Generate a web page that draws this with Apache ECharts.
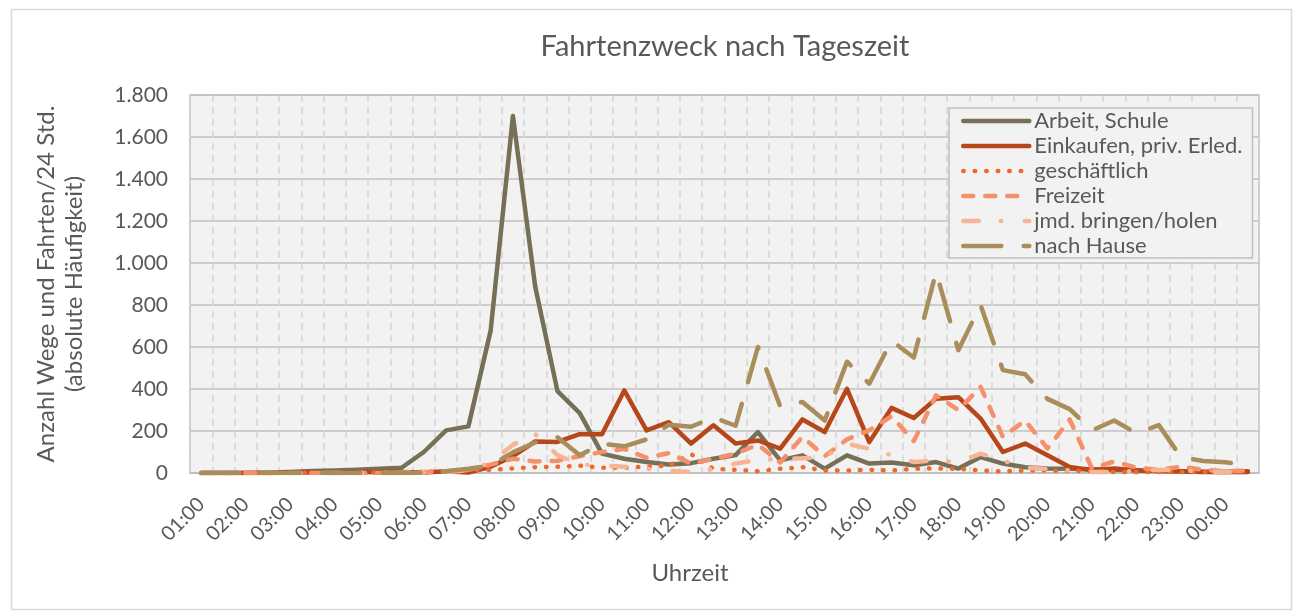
<!DOCTYPE html>
<html>
<head>
<meta charset="utf-8">
<title>Fahrtenzweck nach Tageszeit</title>
<script src="https://cdn.jsdelivr.net/npm/echarts@6/dist/echarts.min.js"></script>
<style>
  html, body { margin: 0; padding: 0; background: #fff; }
  #main { width: 1298px; height: 614px; }
</style>
</head>
<body>
<div id="main"></div>
<script>
// Kategorien: halbstuendlich, beschriftet wird nur jede volle Stunde
var uhrzeiten = ['01:00','01:30','02:00','02:30','03:00','03:30','04:00','04:30','05:00','05:30',
  '06:00','06:30','07:00','07:30','08:00','08:30','09:00','09:30','10:00','10:30',
  '11:00','11:30','12:00','12:30','13:00','13:30','14:00','14:30','15:00','15:30',
  '16:00','16:30','17:00','17:30','18:00','18:30','19:00','19:30','20:00','20:30',
  '21:00','21:30','22:00','22:30','23:00','23:30','00:00','00:30'];

var arbeitSchule = [0,0,0,2,5,10,12,15,20,25,
  100,203,222,678,1700,888,390,285,92,68,
  52,40,47,68,85,195,60,84,21,84,
  45,50,37,52,21,76,45,27,22,20,
  18,15,12,10,8,6,5,5];

var einkaufen = [0,0,0,0,2,2,0,3,5,5,
  2,8,2,30,80,150,148,185,185,393,
  203,242,140,227,140,155,116,255,195,401,
  147,310,262,354,361,259,100,140,84,29,
  13,21,13,10,8,5,5,8];

var geschaeftlich = [0,0,0,0,0,0,0,2,3,3,
  5,8,12,15,22,28,30,35,25,25,
  30,35,90,20,15,8,20,28,12,12,
  15,12,20,22,20,12,8,12,12,10,
  8,5,5,5,5,5,5,3];

var freizeit = [0,0,0,0,0,0,0,0,0,2,
  5,8,15,40,68,55,58,80,100,115,
  72,95,45,68,92,135,50,172,80,160,
  203,270,152,370,300,410,172,250,117,255,
  22,55,25,15,30,15,8,12];

var bringenHolen = [0,0,0,0,0,0,0,0,0,0,
  2,5,12,50,135,185,85,40,35,30,
  20,10,5,18,45,62,68,70,76,140,
  115,85,52,60,50,92,60,25,20,12,
  5,5,10,15,12,8,5,5];

var nachHause = [0,0,0,0,0,0,0,0,0,0,
  2,8,20,35,98,145,170,84,140,127,
  160,230,220,265,225,600,318,338,250,530,
  425,630,550,957,585,800,490,470,353,304,
  203,250,189,228,75,57,51,37];

var yTicks = [0,200,400,600,800,1000,1200,1400,1600,1800];

var schrift = 'Lato, "Open Sans", sans-serif';
var grau = '#595959';

function deZahl(v){ // 1800 -> 1.800
  if (v < 1000) return String(v);
  return Math.floor(v/1000) + '.' + String(v%1000).padStart(3,'0');
}

function linie(name, daten, farbe, dash){
  return {
    name: name,
    type: 'line',
    data: daten,
    symbol: 'none',
    smooth: false,
    lineStyle: { color: farbe, width: 4.5, type: dash || 'solid', cap: 'round', join: 'round' },
    itemStyle: { color: farbe },
    emphasis: { disabled: true }
  };
}

var chart = echarts.init(document.getElementById('main'), null, { renderer: 'canvas' });

chart.setOption({
  animation: false,
  backgroundColor: '#ffffff',
  textStyle: { fontFamily: schrift },
  graphic: [
    { type: 'rect', left: 9, top: 7, shape: { width: 1280, height: 600 }, silent: true, z: -10,
      style: { fill: 'none', stroke: '#d9d9d9', lineWidth: 1.5 } },
    { type: 'text', x: 725, y: 47, silent: true,
      style: { text: 'Fahrtenzweck nach Tageszeit', fill: grau, font: '29px ' + schrift, align: 'center', verticalAlign: 'middle' } },
    { type: 'text', x: 690, y: 573, silent: true,
      style: { text: 'Uhrzeit', fill: grau, font: '24px ' + schrift, align: 'center', verticalAlign: 'middle' } }
  ],
  grid: {
    left: 190, right: 39, top: 95, bottom: 141,
    show: true, backgroundColor: '#f2f2f2', borderColor: '#bfbfbf', borderWidth: 1.5
  },
  legend: {
    orient: 'vertical',
    left: 949, top: 108,
    padding: [2, 10, 1, 12],
    itemWidth: 66, itemHeight: 14, itemGap: 3,
    backgroundColor: '#f2f2f2', borderColor: '#bfbfbf', borderWidth: 1.5,
    lineStyle: { width: 4.5 },
    itemStyle: { opacity: 0 }, // kein Kreis im Legendensymbol
    textStyle: { color: grau, fontSize: 22, lineHeight: 21, fontFamily: schrift },
    selectedMode: false
  },
  xAxis: {
    type: 'category',
    data: uhrzeiten,
    boundaryGap: true,
    axisLine: { show: true, lineStyle: { color: '#bfbfbf', width: 1.5 } },
    axisTick: { show: false, interval: 0 },
    axisLabel: { interval: 1, rotate: 45, margin: 28, color: grau, fontSize: 20, fontFamily: schrift },
    splitLine: { show: true, interval: 0, lineStyle: { color: '#d4d4d4', width: 1.5, type: [7, 5] } }
  },
  yAxis: {
    type: 'value',
    min: yTicks[0], max: yTicks[yTicks.length-1], interval: yTicks[1]-yTicks[0],
    name: 'Anzahl Wege und Fahrten/24 Std.\n(absolute Häufigkeit)',
    nameLocation: 'middle', nameRotate: 90, nameGap: 102,
    nameTextStyle: { color: grau, fontSize: 24, lineHeight: 28, fontFamily: schrift },
    axisLine: { show: false },
    axisTick: { show: false },
    axisLabel: { margin: 22, color: grau, fontSize: 21, fontFamily: schrift, formatter: deZahl },
    splitLine: { show: true, lineStyle: { color: '#c0c0c0', width: 1.5 } }
  },
  series: [
    linie('Arbeit, Schule', arbeitSchule, '#757057'),
    linie('Einkaufen, priv. Erled.', einkaufen, '#b8461b'),
    linie('geschäftlich', geschaeftlich, '#f0692b', [0.5, 11]),
    linie('Freizeit', freizeit, '#f4916a', [10, 12]),
    linie('jmd. bringen/holen', bringenHolen, '#f8b596', [15.5, 22, 0.5, 23.5]),
    linie('nach Hause', nachHause, '#a98d5b', [38, 22.5])
  ]
});
</script>
</body>
</html>
